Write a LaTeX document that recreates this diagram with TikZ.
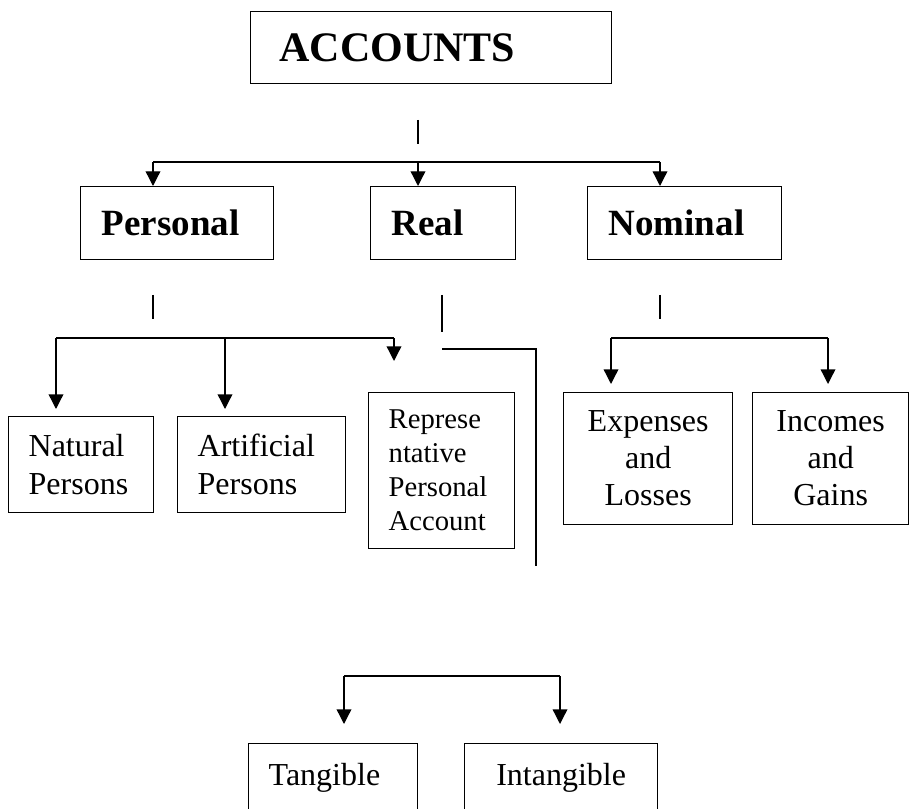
\documentclass[tikz,border=0pt]{standalone}
\usepackage{fontspec}
\setmainfont{Liberation Serif}
\usetikzlibrary{arrows.meta}

\tikzset{every picture/.style={line width=1pt}}
\tikzset{
	box/.style={draw, anchor=north west, inner ysep=2pt},
	headbox/.style={box, inner xsep=15.75pt, align=left, font=\fontsize{27.75}{32}\selectfont\bfseries},
	leafbox/.style={box, inner xsep=15pt, font=\fontsize{24}{28.5}\selectfont},
	arr/.style={-{Triangle[length=11pt,width=11pt]}}
}

\begin{document}
\begin{tikzpicture}[x=0.75pt,y=0.75pt,yscale=-1,xscale=1]
	\clip (0,0) rectangle (910,809);

	% Text Node
	\node [box, inner xsep=21.75pt, align=left, minimum width=270.75pt, minimum height=54pt, text width=227.25pt, font=\fontsize{31.5}{36}\selectfont\bfseries] (accounts) at (250,11) {ACCOUNTS};
	% Text Node
	\node [headbox, minimum height=54.75pt, text width=113.25pt] (personal) at (80,186) {Personal};
	% Text Node
	\node [headbox, minimum height=54.75pt, text width=77.25pt] (real) at (370,186) {Real};
	% Text Node
	\node [headbox, minimum height=54.75pt, text width=114pt] (nominal) at (587,186) {Nominal};
	% Text Node
	\node [leafbox, align=left, minimum height=72pt, text width=78.75pt] (natural) at (8,416) {Natural\\Persons};
	% Text Node
	\node [leafbox, align=left, minimum height=72pt, text width=96pt] (artificial) at (177,416) {Artificial\\Persons};
	% Text Node
	\node [leafbox, align=left, minimum height=117pt, text width=79.5pt, font=\fontsize{21.5}{25.5}\selectfont] (representative) at (368,392) {Represe\\ntative\\Personal\\Account};
	% Text Node
	\node [leafbox, align=center, minimum height=99pt, text width=96.75pt, font=\fontsize{24}{27.75}\selectfont] (expenses) at (563,392) {Expenses\\and\\Losses};
	% Text Node
	\node [leafbox, align=center, minimum height=99pt, text width=87pt, font=\fontsize{24}{27.75}\selectfont] (incomes) at (752,392) {Incomes\\and\\Gains};
	% Text Node
	\node [leafbox, align=left, minimum height=51.75pt, text width=96.75pt] (tangible) at (248,743) {Tangible};
	% Text Node
	\node [leafbox, align=center, minimum height=51.75pt, text width=114.75pt] (intangible) at (464,743) {Intangible};

	% Ends
	\coordinate (accTop) at (418,120);
	\coordinate (accBot) at (418,144);
	\coordinate (barL) at (153,162);
	\coordinate (barR) at (660,162);
	\coordinate (perTop) at (153,295);
	\coordinate (perBot) at (153,319);
	\coordinate (perL) at (56,338);
	\coordinate (perM) at (225,338);
	\coordinate (perR) at (394,338);
	\coordinate (perEnd) at (394,361);
	\coordinate (realTop) at (442,295);
	\coordinate (realBot) at (442,332);
	\coordinate (realA) at (442,349);
	\coordinate (realB) at (536,566);
	\coordinate (nomTop) at (660,295);
	\coordinate (nomBot) at (660,319);
	\coordinate (nomL) at (611,338);
	\coordinate (nomR) at (828,338);
	\coordinate (subL) at (344,676);
	\coordinate (subR) at (560,676);

	% Connection
	\draw (accTop) -- (accBot);
	\draw (barL) -- (barR);
	\draw [arr] (barL) -- (barL |- personal.north);
	\draw [arr] (accBot |- barL) -- (accBot |- real.north);
	\draw [arr] (barR) -- (barR |- nominal.north);
	% Connection
	\draw (perTop) -- (perBot);
	\draw (perL) -- (perR);
	\draw [arr, shorten >=5.25pt] (perL) -- (perL |- natural.north);
	\draw [arr, shorten >=5.25pt] (perM) -- (perM |- artificial.north);
	\draw [arr] (perR) -- (perEnd);
	% Connection
	\draw (realTop) -- (realBot);
	\draw (realA) -| (realB);
	% Connection
	\draw (nomTop) -- (nomBot);
	\draw (nomL) -- (nomR);
	\draw [arr, shorten >=6pt] (nomL) -- (nomL |- expenses.north);
	\draw [arr, shorten >=6pt] (nomR) -- (nomR |- incomes.north);
	% Connection
	\draw (subL) -- (subR);
	\draw [arr, shorten >=14.25pt] (subL) -- (subL |- tangible.north);
	\draw [arr, shorten >=14.25pt] (subR) -- (subR |- intangible.north);

\end{tikzpicture}
\end{document}
